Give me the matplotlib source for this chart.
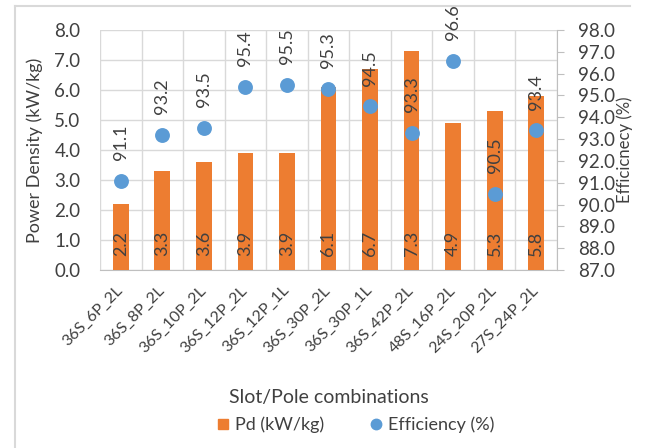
import numpy as np
import matplotlib
matplotlib.use('Agg')
import matplotlib.pyplot as plt
from matplotlib.lines import Line2D
from matplotlib.ticker import FixedLocator, MultipleLocator, FormatStrFormatter

combos = ['36S_6P_2L', '36S_8P_2L', '36S_10P_2L', '36S_12P_2L', '36S_12P_1L',
          '36S_30P_2L', '36S_30P_1L', '36S_42P_2L', '48S_16P_2L', '24S_20P_2L',
          '27S_24P_2L']
power_density = [2.2, 3.3, 3.6, 3.9, 3.9, 6.1, 6.7, 7.3, 4.9, 5.3, 5.8]
efficiency = [91.1, 93.2, 93.5, 95.4, 95.5, 95.3, 94.5, 93.3, 96.6, 90.5, 93.4]

ORANGE = '#ED7D31'
BLUE = '#5B9BD5'
GRID = '#D9D9D9'
AXIS = '#BFBFBF'
TXT = '#404040'

plt.rcParams['font.family'] = ['Lato', 'DejaVu Sans']
plt.rcParams['text.color'] = TXT
plt.rcParams['axes.labelcolor'] = TXT
plt.rcParams['xtick.color'] = TXT
plt.rcParams['ytick.color'] = TXT

fig = plt.figure(figsize=(6.45, 4.48), dpi=100)
ax = fig.add_axes([100 / 645, 1 - 270 / 448, 457 / 645, 240 / 448])
ax2 = ax.twinx()

x = np.arange(len(combos))
ax.bar(x, power_density, width=0.38, color=ORANGE, zorder=3)
for xi, v in zip(x, power_density):
    ax.text(xi, 0.45, f'{v:.1f}', rotation=90, ha='center', va='bottom',
            fontsize=13, zorder=4)

ax2.scatter(x, efficiency, s=115, color=BLUE, zorder=5, linewidths=0)
for xi, v in zip(x, efficiency):
    ax2.annotate(f'{v:.1f}', (xi, v), xytext=(0, 15), textcoords='offset points',
                 rotation=90, ha='center', va='bottom', fontsize=13)

ax.set_xlim(-0.5, len(combos) - 0.5)
ax.set_ylim(0, 8)
ax.yaxis.set_major_locator(MultipleLocator(1))
ax.yaxis.set_major_formatter(FormatStrFormatter('%.1f'))
ax2.set_ylim(87, 98)
ax2.yaxis.set_major_locator(MultipleLocator(1))
ax2.yaxis.set_major_formatter(FormatStrFormatter('%.1f'))

ax.set_xticks(x)
ax.set_xticklabels(combos, rotation=45, ha='right', va='center',
                   rotation_mode='anchor', fontsize=11.5)
ax.xaxis.set_minor_locator(FixedLocator(np.arange(-0.5, len(combos), 1)))
ax.tick_params(axis='x', which='both', length=0, pad=13)
ax.tick_params(axis='y', length=0, labelsize=13.5, pad=14)
ax2.tick_params(axis='y', length=5, color=AXIS, labelsize=13.5, pad=10)

ax.grid(axis='y', which='major', color=GRID, linewidth=1, zorder=0)
ax.grid(axis='x', which='minor', color=GRID, linewidth=1, zorder=0)
ax.set_axisbelow(True)

for a in (ax, ax2):
    for side in ('top', 'left', 'right'):
        a.spines[side].set_visible(False)
ax.spines['bottom'].set_color(AXIS)
ax2.spines['bottom'].set_visible(False)
ax2.spines['right'].set_visible(True)
ax2.spines['right'].set_color(AXIS)

ax.set_ylabel('Power Density (kW/kg)', fontsize=13, labelpad=8)
ax2.set_ylabel('Efficicnecy (%)', fontsize=12)
ax2.yaxis.set_label_coords(1.131, 0.5)
ax.set_xlabel('Slot/Pole combinations', fontsize=14)
ax.xaxis.set_label_coords(0.5, -0.495)

handles = [Line2D([], [], marker='s', linestyle='none', color=ORANGE,
                  markersize=7.5, label='Pd (kW/kg)'),
           Line2D([], [], marker='o', linestyle='none', color=BLUE,
                  markersize=7.5, label='Efficiency (%)')]
fig.legend(handles=handles, loc='center', bbox_to_anchor=(356 / 645, 1 - 425 / 448),
           ncol=2, frameon=False, fontsize=13, handlelength=0.6,
           handletextpad=0.35, columnspacing=2.6, borderpad=0)

# chart frame
fig.add_artist(Line2D([15 / 645, 15 / 645], [0, 1 - 6 / 448], color=GRID,
                      linewidth=1.5, transform=fig.transFigure))
fig.add_artist(Line2D([15 / 645, 630 / 645], [1 - 6 / 448, 1 - 6 / 448], color=GRID,
                      linewidth=1.5, transform=fig.transFigure))

fig.savefig('out.png', dpi=100)
